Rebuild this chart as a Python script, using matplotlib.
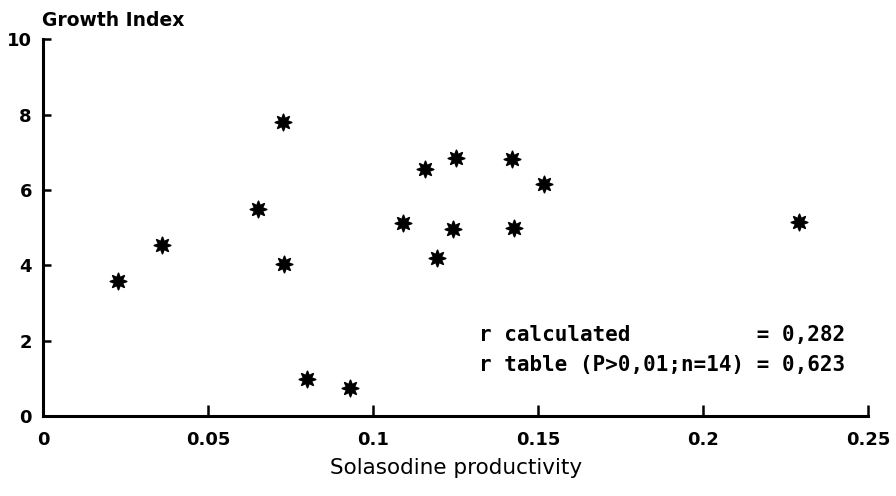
import matplotlib
matplotlib.use("Agg")
import matplotlib.pyplot as plt

# Solasodine productivity vs growth index
productivity = [0.0227, 0.036, 0.065, 0.0727, 0.073, 0.080, 0.093, 0.109,
                0.1158, 0.1194, 0.1242, 0.125, 0.142, 0.1427, 0.1518, 0.229]
growth_index = [3.58, 4.54, 5.49, 7.80, 4.03, 0.98, 0.74, 5.12,
                6.55, 4.19, 4.96, 6.84, 6.82, 4.99, 6.15, 5.15]

x_ticks = [0, 0.05, 0.1, 0.15, 0.2, 0.25]
x_labels = ["0", "0.05", "0.1", "0.15", "0.2", "0.25"]
y_ticks = [0, 2, 4, 6, 8, 10]

fig = plt.figure(figsize=(8.96, 4.96), dpi=100)
ax = fig.add_axes([0.048, 0.161, 0.921, 0.760])

ax.scatter(productivity, growth_index, marker=(8, 1, 0), s=140,
           color="black", linewidths=1.2, zorder=3)

ax.set_xlim(0, 0.25)
ax.set_ylim(0, 10)
ax.spines["top"].set_visible(False)
ax.spines["right"].set_visible(False)
for side in ["left", "bottom"]:
    ax.spines[side].set_linewidth(2.2)

ax.set_xticks(x_ticks)
ax.set_xticklabels(x_labels, fontsize=13, fontweight="bold")
ax.set_yticks(y_ticks)
ax.set_yticklabels([str(v) for v in y_ticks], fontsize=13, fontweight="bold")
ax.tick_params(axis="x", direction="in", length=8, width=1.8, pad=11)
ax.tick_params(axis="y", direction="in", length=6, width=1.8, pad=8)

ax.set_xlabel("Solasodine productivity", fontsize=15.5, labelpad=6)
fig.text(0.047, 0.958, "Growth Index", fontsize=13.5, fontweight="bold",
         ha="left", va="center")

ax.text(0.528, 0.215, "r calculated          = 0,282", transform=ax.transAxes,
        family="DejaVu Sans Mono", fontweight="bold", fontsize=15,
        ha="left", va="center")
ax.text(0.528, 0.135, "r table (P>0,01;n=14) = 0,623", transform=ax.transAxes,
        family="DejaVu Sans Mono", fontweight="bold", fontsize=15,
        ha="left", va="center")

fig.savefig("out.png", dpi=100)
